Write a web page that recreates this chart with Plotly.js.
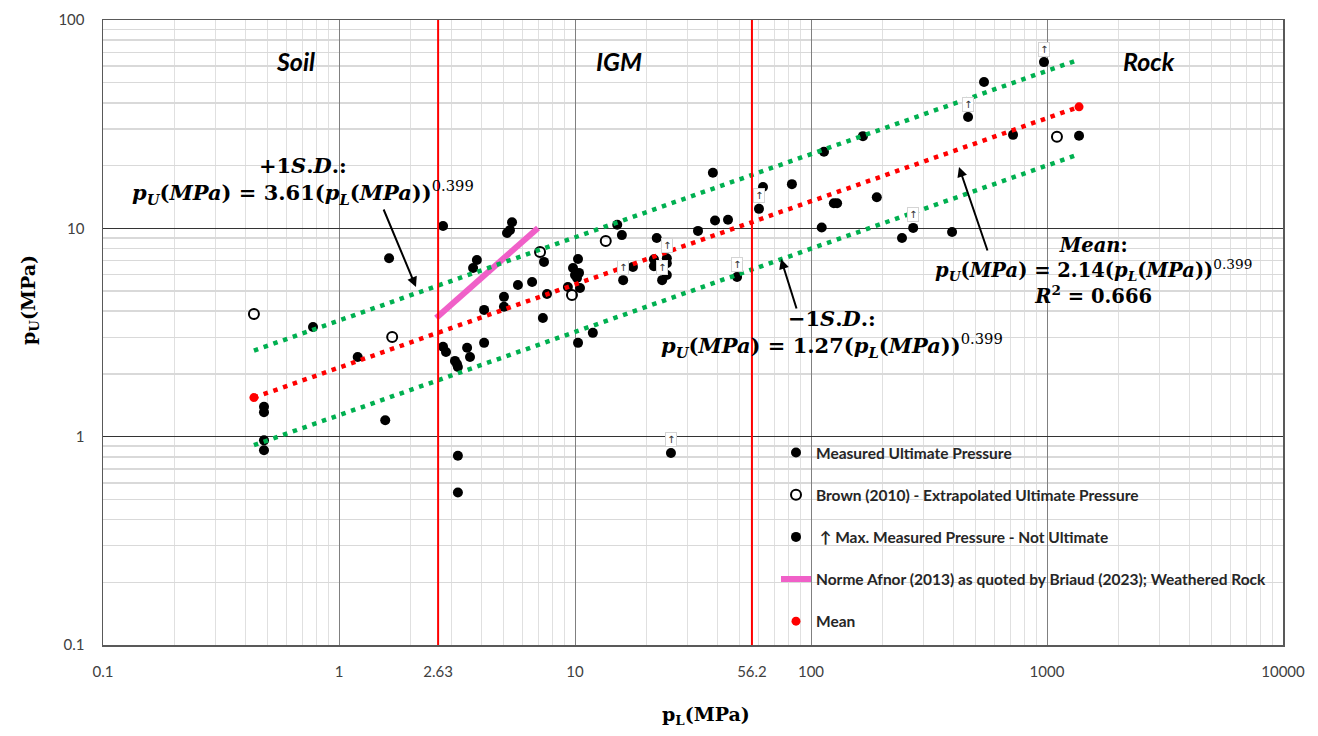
<!DOCTYPE html>
<html><head><meta charset="utf-8">
<script src="https://cdn.plot.ly/plotly-3.0.1.min.js"></script>
<style>html,body{margin:0;padding:0;background:#fff}#chart{width:1318px;height:736px}</style>
</head><body><div id="chart"></div>
<script>
// ---- Data ----
const measuredX = [0.776,0.481,0.481,0.481,0.481,1.20,1.57,1.63,2.76,2.76,2.84,3.10,3.16,3.19,3.49,3.59,4.12,3.19,3.19,
  5.41,5.15,5.30,3.84,3.70,7.39,5.73,6.58,5.00,5.00,4.12,7.61,7.31,10.3,9.81,10.4,10.0,10.2,10.5,9.33,10.3,11.9,
  15.1,15.8,17.6,38.4,62.6,39.2,44.5,33.2,22.2,21.6,21.6,24.5,24.5,83.0,113.5,166,125,129,190,111,243,396,541,718,1367];
const measuredY = [3.36,1.39,1.31,0.96,0.86,2.41,1.20,7.19,10.26,2.70,2.55,2.31,2.23,2.16,2.67,2.41,2.82,0.81,0.54,
  10.7,9.5,9.8,7.05,6.45,6.90,5.35,5.53,4.69,4.20,4.06,4.84,3.71,7.13,6.45,6.11,5.97,5.78,5.17,5.23,2.82,3.15,
  10.4,9.28,6.53,18.5,15.8,10.9,11.0,9.72,8.98,7.11,6.58,6.80,5.97,16.3,23.3,27.7,13.2,13.2,14.1,10.1,8.99,9.6,50.4,28.1,27.8];
const brownX = [0.436,1.68,7.11,9.71,13.5,1102];
const brownY = [3.88,3.01,7.69,4.79,8.70,27.5];
const maxX = [16.0,24.5,23.4,25.5,48.6,60.2,271,463,971];
const maxY = [5.64,7.19,5.64,0.835,5.84,12.4,10.05,34.2,62.8];
const afnorX = [2.58, 6.97];
const afnorY = [3.71, 10.05];
const trendX = [0.436, 1367];
const meanY = [1.54, 38.3];
const plusSDY = [2.59, 64.6];
const minusSDY = [0.91, 22.7];
const boundaryX = [2.63, 56.2];
const xTickVals = [0.1, 1, 2.63, 10, 56.2, 100, 1000, 10000];
const xTickText = ['0.1','1','2.63','10','56.2','100','1000','10000'];
const yTickVals = [0.1, 1, 10, 100];
const yTickText = ['0.1','1','10','100'];

// ---- helpers for placing text (pixels -> paper) ----
const L = 103, R = 1283, T = 20, B = 645;
const PX = p => (p - L) / (R - L);
const PY = p => (B - p) / (B - T);

const green = '#00B050', red = '#FF0000', pink = '#F060C8';
const dotDash = '4.5px,5.8px';

const traces = [
  {x: measuredX, y: measuredY, mode: 'markers', type: 'scatter', name: 'Measured Ultimate Pressure',
   marker: {color: '#000', size: 10}, legendrank: 1, legendgroup: 'g1'},
  {x: brownX, y: brownY, mode: 'markers', type: 'scatter', name: 'Brown (2010) - Extrapolated Ultimate Pressure',
   marker: {symbol: 'circle-open', color: '#000', size: 10, line: {width: 2, color: '#000'}}, legendrank: 2, legendgroup: 'g2'},
  {x: maxX, y: maxY, mode: 'markers', type: 'scatter', name: ' \u2191 Max. Measured Pressure - Not Ultimate',
   marker: {color: '#000', size: 10}, legendrank: 3, legendgroup: 'g3'},
  {x: afnorX, y: afnorY, mode: 'lines', type: 'scatter', name: 'Norme Afnor (2013) as quoted by Briaud (2023); Weathered Rock',
   line: {color: pink, width: 6}, legendrank: 4, legendgroup: 'g4'},
  {x: trendX, y: plusSDY, mode: 'lines', type: 'scatter', showlegend: false,
   line: {color: green, width: 4.5, dash: dotDash}},
  {x: trendX, y: minusSDY, mode: 'lines', type: 'scatter', showlegend: false,
   line: {color: green, width: 4.5, dash: dotDash}},
  {x: trendX, y: meanY, mode: 'lines', type: 'scatter', showlegend: false,
   line: {color: red, width: 4.5, dash: dotDash}},
  {x: trendX, y: meanY, mode: 'markers', type: 'scatter', name: 'Mean',
   marker: {color: red, size: 9}, legendrank: 5, legendgroup: 'g5'}
];

const mathFont = {family: 'DejaVu Serif', size: 21, color: '#000'};
const meanFont = {family: 'DejaVu Serif', size: 19.5, color: '#000'};
const regionFont = {family: 'Lato', size: 25, color: '#000'};
const base = {xref: 'paper', yref: 'paper', xanchor: 'center', yanchor: 'middle', showarrow: false};
const annotations = [
  Object.assign({}, base, {x: PX(295), y: PY(61), text: '<b><i>Soil</i></b>', font: regionFont}),
  Object.assign({}, base, {x: PX(619), y: PY(61), text: '<b><i>IGM</i></b>', font: regionFont}),
  Object.assign({}, base, {x: PX(1149), y: PY(61), text: '<b><i>Rock</i></b>', font: regionFont}),
  Object.assign({}, base, {x: PX(303), y: PY(180), font: mathFont, align: 'center',
   text: '<b>+1<i>S</i>.<i>D</i>.:</b><br><b><i>p<sub>U</sub></i>(<i>MPa</i>) = 3.61(<i>p<sub>L</sub></i>(<i>MPa</i>))</b><sup>0.399</sup>'}),
  Object.assign({}, base, {x: PX(832), y: PY(333), font: mathFont, align: 'center',
   text: '<b>\u22121<i>S</i>.<i>D</i>.:</b><br><b><i>p<sub>U</sub></i>(<i>MPa</i>) = 1.27(<i>p<sub>L</sub></i>(<i>MPa</i>))</b><sup>0.399</sup>'}),
  Object.assign({}, base, {x: PX(1093), y: PY(271), font: meanFont, align: 'center',
   text: '<b><i>Mean</i>:</b><br><b><i>p<sub>U</sub></i>(<i>MPa</i>) = 2.14(<i>p<sub>L</sub></i>(<i>MPa</i>))</b><sup>0.399</sup><br><b><i>R</i><sup>2</sup> = 0.666</b>'}),
  // arrows
  {xref: 'paper', yref: 'paper', x: PX(416), y: PY(287), ax: 383 - 416, ay: 208 - 287, text: '',
   showarrow: true, arrowhead: 2, arrowsize: 1, arrowwidth: 2, arrowcolor: '#000'},
  {xref: 'paper', yref: 'paper', x: PX(781), y: PY(259), ax: 797 - 781, ay: 310 - 259, text: '',
   showarrow: true, arrowhead: 2, arrowsize: 1, arrowwidth: 2, arrowcolor: '#000'},
  {xref: 'paper', yref: 'paper', x: PX(959), y: PY(167), ax: 988 - 959, ay: 252 - 167, text: '',
   showarrow: true, arrowhead: 2, arrowsize: 1, arrowwidth: 2, arrowcolor: '#000'},
  // axis titles
  Object.assign({}, base, {x: PX(706), y: PY(715), text: '<b>p<sub>L</sub>(MPa)</b>',
   font: {family: 'DejaVu Serif', size: 19, color: '#000'}}),
  Object.assign({}, base, {x: PX(30), y: PY(300), textangle: -90, text: '<b>p<sub>U</sub>(MPa)</b>',
   font: {family: 'DejaVu Serif', size: 19, color: '#000'}})
];
maxX.forEach((v, i) => {
  annotations.push({xref: 'x', yref: 'y', x: Math.log10(v), y: Math.log10(maxY[i]), yshift: 13,
    xanchor: 'center', yanchor: 'middle',
    text: '\u2191', showarrow: false, font: {family: 'DejaVu Sans', size: 10, color: '#333'},
    bgcolor: '#fff', bordercolor: '#d4d4d4', borderwidth: 1, borderpad: 1});
});

const shapes = boundaryX.map(v => ({type: 'line', xref: 'x', yref: 'paper', x0: v, x1: v, y0: 0, y1: 1,
  line: {color: red, width: 2}, layer: 'above'}));

const layout = {
  width: 1318, height: 736,
  margin: {l: L, r: 1318 - R, t: T, b: 736 - B},
  paper_bgcolor: '#fff', plot_bgcolor: '#fff',
  showlegend: true,
  legend: {x: PX(776), y: PY(436), xanchor: 'left', yanchor: 'top', bgcolor: 'rgba(0,0,0,0)',
    traceorder: 'grouped', tracegroupgap: 19,
    font: {family: 'Lato', size: 15.5, color: '#262626', weight: 'bold'}},
  xaxis: {type: 'log', range: [-1, 4], tickmode: 'array', tickvals: xTickVals, ticktext: xTickText,
    showgrid: true, gridcolor: '#808080', gridwidth: 1,
    minor: {dtick: 'D1', showgrid: true, gridcolor: '#e0e0e0', gridwidth: 1, ticks: ''},
    showline: true, mirror: true, linecolor: '#595959', linewidth: 1.5,
    ticks: 'outside', ticklen: 12, tickcolor: 'rgba(0,0,0,0)',
    tickfont: {family: 'Lato', size: 15, color: '#404040'}, zeroline: false},
  yaxis: {type: 'log', range: [-1, 2], tickmode: 'array', tickvals: yTickVals, ticktext: yTickText,
    showgrid: true, gridcolor: '#333333', gridwidth: 1,
    minor: {dtick: 'D1', showgrid: true, gridcolor: '#d9d9d9', gridwidth: 1.5, ticks: ''},
    showline: true, mirror: true, linecolor: '#595959', linewidth: 1.5,
    ticks: 'outside', ticklen: 14, tickcolor: 'rgba(0,0,0,0)',
    tickfont: {family: 'Lato', size: 15, color: '#404040'}, zeroline: false},
  annotations: annotations,
  shapes: shapes
};

Plotly.newPlot('chart', traces, layout, {displayModeBar: false, staticPlot: true});
</script>
</body></html>
